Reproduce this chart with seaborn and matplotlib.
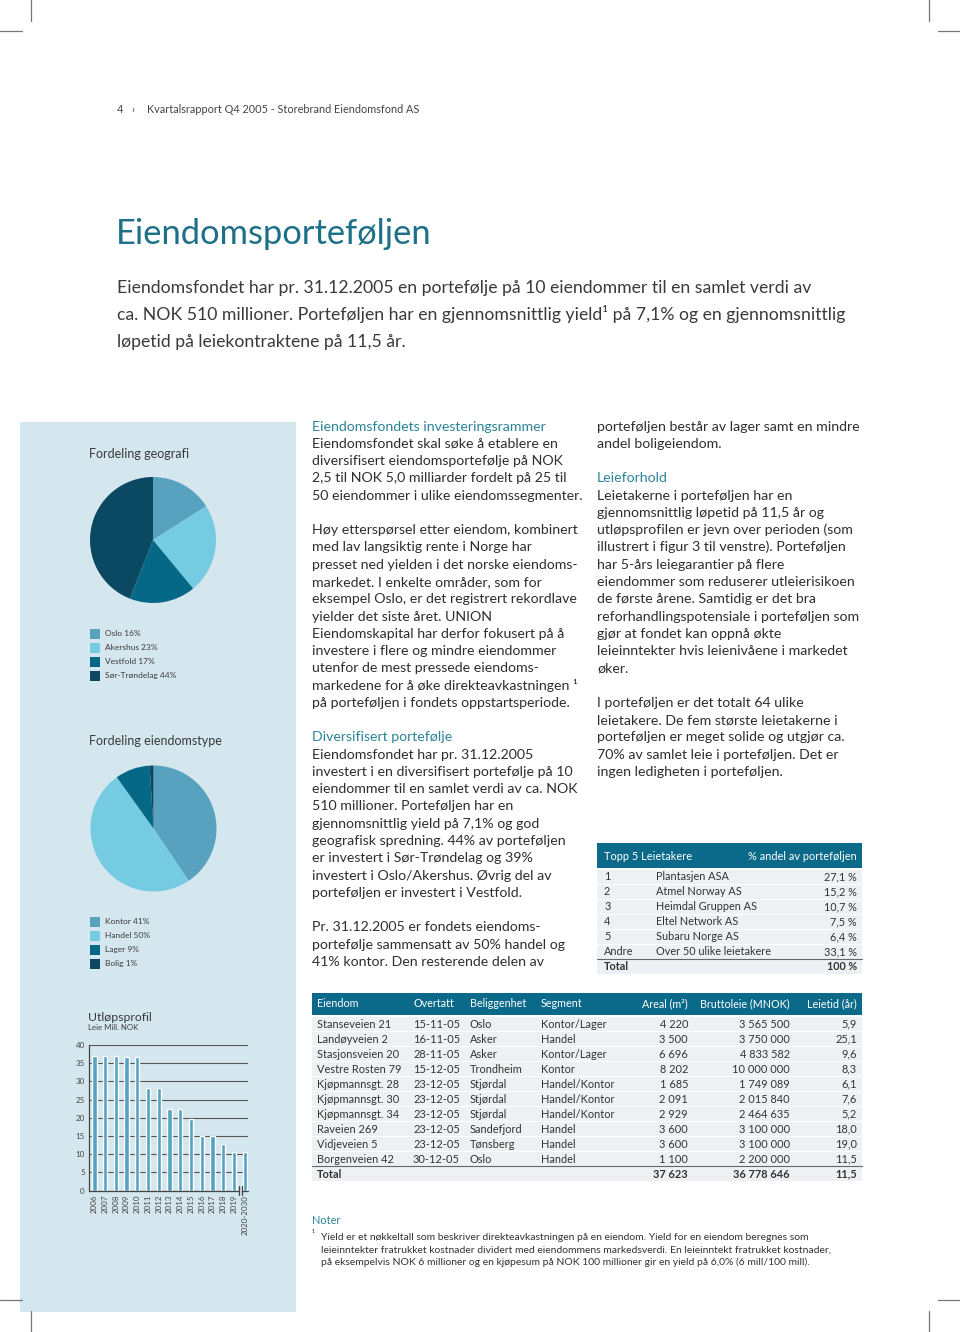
import matplotlib
matplotlib.use("Agg")
import matplotlib.pyplot as plt
import matplotlib.transforms as mtransforms
from matplotlib.patches import Rectangle
import seaborn as sns
import pandas as pd

# ---------------- data ----------------
geo_labels = ["Oslo", "Akershus", "Vestfold", "Sør-Trøndelag"]
geo_values = [16, 23, 17, 44]
type_labels = ["Kontor", "Handel", "Lager", "Bolig"]
type_values = [41, 50, 9, 1]

years = ["2006", "2007", "2008", "2009", "2010", "2011", "2012", "2013",
         "2014", "2015", "2016", "2017", "2018", "2019", "2020-2030"]
rent = [37.0, 37.0, 37.0, 36.8, 36.8, 28.2, 28.2, 22.3, 22.3, 19.7,
        15.1, 15.1, 12.8, 10.6, 10.6]
rent_ticks = [0, 5, 10, 15, 20, 25, 30, 35, 40]

top5_rank = ["1", "2", "3", "4", "5", "Andre"]
top5_name = ["Plantasjen ASA", "Atmel Norway AS", "Heimdal Gruppen AS",
             "Eltel Network AS", "Subaru Norge AS", "Over 50 ulike leietakere"]
top5_share = ["27,1 %", "15,2 %", "10,7 %", "7,5 %", "6,4 %", "33,1 %"]
top5_total = "100 %"

prop_name = ["Stanseveien 21", "Landøyveien 2", "Stasjonsveien 20", "Vestre Rosten 79",
             "Kjøpmannsgt. 28", "Kjøpmannsgt. 30", "Kjøpmannsgt. 34", "Raveien 269",
             "Vidjeveien 5", "Borgenveien 42"]
prop_date = ["15-11-05", "16-11-05", "28-11-05", "15-12-05", "23-12-05", "23-12-05",
             "23-12-05", "23-12-05", "23-12-05", "30-12-05"]
prop_place = ["Oslo", "Asker", "Asker", "Trondheim", "Stjørdal", "Stjørdal",
              "Stjørdal", "Sandefjord", "Tønsberg", "Oslo"]
prop_segment = ["Kontor/Lager", "Handel", "Kontor/Lager", "Kontor", "Handel/Kontor",
                "Handel/Kontor", "Handel/Kontor", "Handel", "Handel", "Handel"]
prop_area = ["4 220", "3 500", "6 696", "8 202", "1 685", "2 091", "2 929", "3 600",
             "3 600", "1 100"]
prop_rent = ["3 565 500", "3 750 000", "4 833 582", "10 000 000", "1 749 089",
             "2 015 840", "2 464 635", "3 100 000", "3 100 000", "2 200 000"]
prop_term = ["5,9", "25,1", "9,6", "8,3", "6,1", "7,6", "5,2", "18,0", "19,0", "11,5"]
prop_total = ["Total", "37 623", "36 778 646", "11,5"]
prop_header = ["Eiendom", "Overtatt", "Beliggenhet", "Segment", "Areal (m²)",
               "Bruttoleie (MNOK)", "Leietid (år)"]

intro_lines = [
    "Eiendomsfondet har pr. 31.12.2005 en portefølje på 10 eiendommer til en samlet verdi av",
    "ca. NOK 510 millioner. Porteføljen har en gjennomsnittlig yield¹ på 7,1% og en gjennomsnittlig",
    "løpetid på leiekontraktene på 11,5 år.",
]

col2_lines = [
    ("h", "Eiendomsfondets investeringsrammer"),
    ("b", "Eiendomsfondet skal søke å etablere en"),
    ("b", "diversifisert eiendomsportefølje på NOK"),
    ("b", "2,5 til NOK 5,0 milliarder fordelt på 25 til"),
    ("b", "50 eiendommer i ulike eiendomssegmenter."),
    ("b", ""),
    ("b", "Høy etterspørsel etter eiendom, kombinert"),
    ("b", "med lav langsiktig rente i Norge har"),
    ("b", "presset ned yielden i det norske eiendoms-"),
    ("b", "markedet. I enkelte områder, som for"),
    ("b", "eksempel Oslo, er det registrert rekordlave"),
    ("b", "yielder det siste året. UNION"),
    ("b", "Eiendomskapital har derfor fokusert på å"),
    ("b", "investere i flere og mindre eiendommer"),
    ("b", "utenfor de mest pressede eiendoms-"),
    ("b", "markedene for å øke direkteavkastningen ¹"),
    ("b", "på porteføljen i fondets oppstartsperiode."),
    ("b", ""),
    ("h", "Diversifisert portefølje"),
    ("b", "Eiendomsfondet har pr. 31.12.2005"),
    ("b", "investert i en diversifisert portefølje på 10"),
    ("b", "eiendommer til en samlet verdi av ca. NOK"),
    ("b", "510 millioner. Porteføljen har en"),
    ("b", "gjennomsnittlig yield på 7,1% og god"),
    ("b", "geografisk spredning. 44% av porteføljen"),
    ("b", "er investert i Sør-Trøndelag og 39%"),
    ("b", "investert i Oslo/Akershus. Øvrig del av"),
    ("b", "porteføljen er investert i Vestfold."),
    ("b", ""),
    ("b", "Pr. 31.12.2005 er fondets eiendoms-"),
    ("b", "portefølje sammensatt av 50% handel og"),
    ("b", "41% kontor. Den resterende delen av"),
]

col3_lines = [
    ("b", "porteføljen består av lager samt en mindre"),
    ("b", "andel boligeiendom."),
    ("b", ""),
    ("h", "Leieforhold"),
    ("b", "Leietakerne i porteføljen har en"),
    ("b", "gjennomsnittlig løpetid på 11,5 år og"),
    ("b", "utløpsprofilen er jevn over perioden (som"),
    ("b", "illustrert i figur 3 til venstre). Porteføljen"),
    ("b", "har 5-års leiegarantier på flere"),
    ("b", "eiendommer som reduserer utleierisikoen"),
    ("b", "de første årene. Samtidig er det bra"),
    ("b", "reforhandlingspotensiale i porteføljen som"),
    ("b", "gjør at fondet kan oppnå økte"),
    ("b", "leieinntekter hvis leienivåene i markedet"),
    ("b", "øker."),
    ("b", ""),
    ("b", "I porteføljen er det totalt 64 ulike"),
    ("b", "leietakere. De fem største leietakerne i"),
    ("b", "porteføljen er meget solide og utgjør ca."),
    ("b", "70% av samlet leie i porteføljen. Det er"),
    ("b", "ingen ledigheten i porteføljen."),
]

note_lines = [
    "Yield er et nøkkeltall som beskriver direkteavkastningen på en eiendom. Yield for en eiendom beregnes som",
    "leieinntekter fratrukket kostnader dividert med eiendommens markedsverdi. En leieinntekt fratrukket kostnader,",
    "på eksempelvis NOK 6 millioner og en kjøpesum på NOK 100 millioner gir en yield på 6,0% (6 mill/100 mill).",
]

# ---------------- style ----------------
sns.set_theme(style="white")
plt.rcParams['font.family'] = ['Lato', 'DejaVu Sans']

C_MED = "#58a2bf"
C_LIGHT = "#74cbe2"
C_DARK = "#056887"
C_DARKEST = "#0b4862"
C_PANEL = "#d4e6ee"
C_TITLE = "#1d7088"
C_HEAD = "#2b8398"
C_BAND = "#0b6a89"
C_TEXT = "#333333"
C_ROW = "#eef1f3"

W, H = 960, 1332
fig = plt.figure(figsize=(W / 100, H / 100), dpi=100)
fig.patch.set_facecolor("white")

bg = fig.add_axes([0, 0, 1, 1])
bg.set_xlim(0, W)
bg.set_ylim(H, 0)
bg.axis("off")


def px_axes(x0, y0, w, h):
    return fig.add_axes([x0 / W, 1 - (y0 + h) / H, w / W, h / H])


def T(x, y, s, size, color=C_TEXT, ha="left", weight="normal"):
    off = 0.32 * size * 100 / 72
    bg.text(x, y + off, s, fontsize=size, color=color, ha=ha, va="baseline",
            fontweight=weight)


# crop marks
for (xs, ys) in [((31, 31), (0, 21)), ((0, 22), (31, 31)),
                 ((929, 929), (0, 21)), ((938, 960), (31, 31)),
                 ((31, 31), (1311, 1332)), ((0, 22), (1300, 1300)),
                 ((929, 929), (1311, 1332)), ((938, 960), (1300, 1300))]:
    bg.plot(xs, ys, color="#777777", lw=0.9)

# header
T(117, 110, "4", 7.8, "#444444")
T(131, 109, "›", 7.8, "#444444")
T(147, 110, "Kvartalsrapport Q4 2005 - Storebrand Eiendomsfond AS", 7.8, "#444444")

# title
T(116, 233, "Eiendomsporteføljen", 24.8, C_TITLE)

# intro
for i, line in enumerate(intro_lines):
    T(117, 287 + 27 * i, line, 12.7, "#3a3a3a")

# panel
bg.add_patch(Rectangle((20, 422), 276, 890, facecolor=C_PANEL, edgecolor="none"))

# ---- pie 1 ----
T(89, 454, "Fordeling geografi", 9.0, "#3a3a3a")
ax1 = px_axes(90, 477, 126, 126)
ax1.pie(geo_values, colors=[C_MED, C_LIGHT, C_DARK, C_DARKEST], startangle=90,
        counterclock=False, radius=1, wedgeprops=dict(linewidth=0))
ax1.set_xlim(-1, 1); ax1.set_ylim(-1, 1); ax1.set_aspect("equal")
ax1.axis("off")
for i, (lab, v, c) in enumerate(zip(geo_labels, geo_values,
                                    [C_MED, C_LIGHT, C_DARK, C_DARKEST])):
    y = 633.5 + 14 * i
    bg.add_patch(Rectangle((89.5, y - 5), 10, 10, facecolor=c, edgecolor="none"))
    T(105, y, f"{lab} {v}%", 6.0, "#3a3a3a")

# ---- pie 2 ----
T(89, 741, "Fordeling eiendomstype", 9.0, "#3a3a3a")
ax2 = px_axes(90.5, 765.5, 126, 126)
ax2.pie(type_values, colors=[C_MED, C_LIGHT, C_DARK, C_DARKEST], startangle=90,
        counterclock=False, radius=1, wedgeprops=dict(linewidth=0))
ax2.set_xlim(-1, 1); ax2.set_ylim(-1, 1); ax2.set_aspect("equal")
ax2.axis("off")
for i, (lab, v, c) in enumerate(zip(type_labels, type_values,
                                    [C_MED, C_LIGHT, C_DARK, C_DARKEST])):
    y = 921.5 + 14 * i
    bg.add_patch(Rectangle((89.5, y - 5), 10, 10, facecolor=c, edgecolor="none"))
    T(105, y, f"{lab} {v}%", 6.0, "#3a3a3a")

# ---- bar chart ----
T(88, 1017, "Utløpsprofil", 8.8, "#3a3a3a")
T(88, 1028, "Leie Mill. NOK", 5.6, "#3a3a3a")
ax3 = px_axes(89, 1045, 159, 145.7)
ax3.patch.set_alpha(0)
df = pd.DataFrame({"year": years, "rent": rent})
sns.barplot(data=df, x="year", y="rent", color=C_MED, width=0.4, saturation=1,
            ax=ax3, zorder=3)
ax3.set_ylim(0, 40)
ax3.set_xlim(-0.5, 14.3)
ax3.set_yticks(rent_ticks)
ax3.yaxis.grid(True, color="#555555", lw=0.8)
ax3.set_axisbelow(True)
ax3.set_xlabel(""); ax3.set_ylabel("")
for s in ["top", "right", "bottom"]:
    ax3.spines[s].set_visible(False)
ax3.spines["left"].set_color("#444444")
ax3.spines["left"].set_linewidth(0.9)
ax3.tick_params(axis="y", length=0, pad=3, labelsize=5.7, labelcolor="#444444")
ax3.tick_params(axis="x", length=0, pad=3, labelsize=5.7, labelcolor="#444444",
                labelrotation=90)
trans = mtransforms.blended_transform_factory(ax3.transData, ax3.transAxes)
ax3.plot([-0.5, 13.42], [0, 0], color="#444444", lw=0.9, transform=trans,
         clip_on=False, zorder=4)
ax3.plot([13.76, 14.3], [0, 0], color="#444444", lw=0.9, transform=trans,
         clip_on=False, zorder=4)
for bx in (13.42, 13.76):
    ax3.plot([bx, bx], [-0.03, 0.03], color="#444444", lw=0.9, transform=trans,
             clip_on=False, zorder=4)

# ---- text columns ----
for i, (kind, line) in enumerate(col2_lines):
    if line:
        T(312, 426 + 17.27 * i, line, 10.2, C_HEAD if kind == "h" else "#2e2e2e")
for i, (kind, line) in enumerate(col3_lines):
    if line:
        T(597, 426 + 17.27 * i, line, 10.2, C_HEAD if kind == "h" else "#2e2e2e")

# ---- top 5 table ----
bg.add_patch(Rectangle((597, 843), 265, 25, facecolor=C_BAND, edgecolor="none"))
T(604, 856, "Topp 5 Leietakere", 7.9, "white")
T(857, 856, "% andel av porteføljen", 7.9, "white", ha="right")
for i in range(7):
    y = 869.5 + 15 * i
    bg.add_patch(Rectangle((597, y), 265, 14, facecolor=C_ROW, edgecolor="none"))
for i, (r, n, s) in enumerate(zip(top5_rank, top5_name, top5_share)):
    y = 876.7 + 15 * i
    T(604, y, r, 7.8)
    T(656, y, n, 7.8)
    T(857, y, s, 7.8, ha="right")
bg.plot([597, 862], [959.2, 959.2], color="#666666", lw=0.8)
T(604, 966.7, "Total", 7.8, weight="bold")
T(857, 966.7, top5_total, 7.8, ha="right", weight="bold")

# ---- property table ----
bg.add_patch(Rectangle((312, 993), 550, 21.5, facecolor=C_BAND, edgecolor="none"))
hx = [(317, "left"), (413, "left"), (470, "left"), (541, "left"),
      (688, "right"), (790, "right"), (857, "right")]
for (x, ha), h in zip(hx, prop_header):
    T(x, 1003.5, h, 7.75, "white", ha=ha)
for i in range(11):
    y = 1016.5 + 15 * i
    bg.add_patch(Rectangle((312, y), 550, 14, facecolor=C_ROW, edgecolor="none"))
for i in range(len(prop_name)):
    y = 1024 + 15 * i
    vals = [prop_name[i], prop_date[i], prop_place[i], prop_segment[i],
            prop_area[i], prop_rent[i], prop_term[i]]
    for (x, ha), v in zip(hx, vals):
        T(x, y, v, 7.9, ha=ha)
bg.plot([312, 862], [1166.3, 1166.3], color="#666666", lw=0.8)
T(317, 1174, prop_total[0], 7.9, weight="bold")
T(688, 1174, prop_total[1], 7.9, ha="right", weight="bold")
T(790, 1174, prop_total[2], 7.9, ha="right", weight="bold")
T(857, 1174, prop_total[3], 7.9, ha="right", weight="bold")

# ---- notes ----
T(312, 1221, "Noter", 7.8, C_HEAD)
T(312, 1234, "¹", 6.5, "#333333")
for i, line in enumerate(note_lines):
    T(321, 1237 + 12.5 * i, line, 7.5, "#333333")

fig.savefig("out.png", dpi=100, facecolor="white")
